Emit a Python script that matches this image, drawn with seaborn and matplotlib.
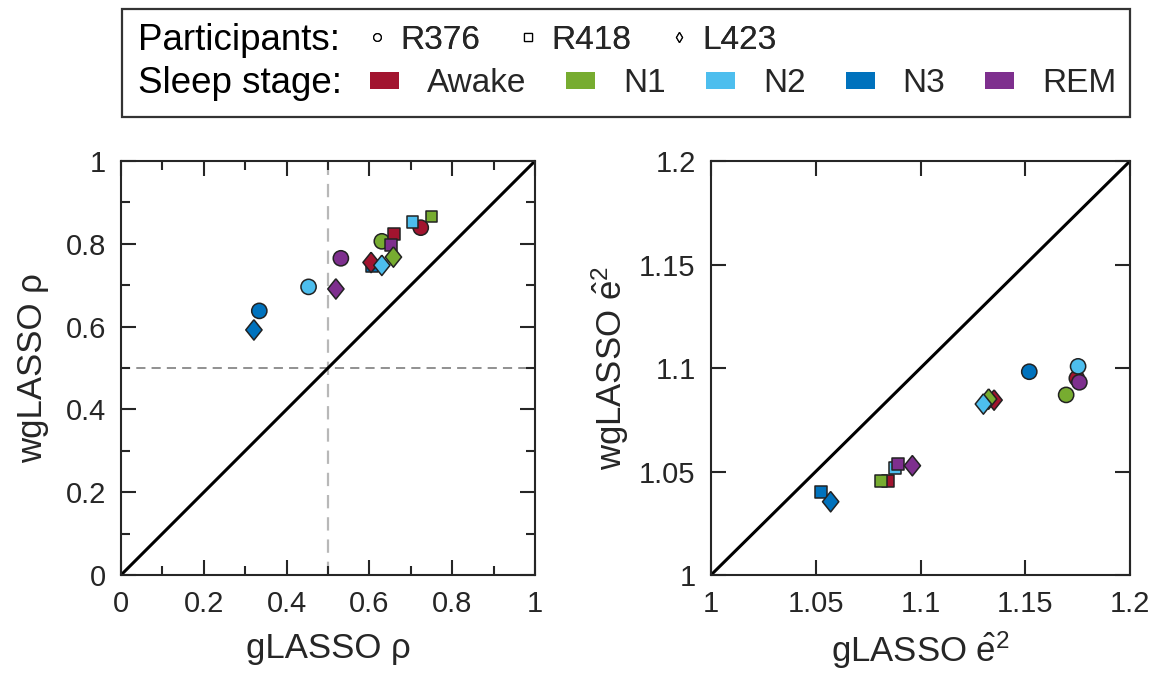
"""
gLASSO vs wgLASSO comparison: correlation and error per participant and sleep stage.
"""

import numpy as np
import pandas as pd
import matplotlib
matplotlib.use('Agg')
import matplotlib.pyplot as plt
import seaborn as sns
from matplotlib.lines import Line2D
from matplotlib.patches import Patch, Rectangle
from matplotlib.ticker import MultipleLocator, FuncFormatter

# ---- data ----
stages = ['Awake', 'N1', 'N2', 'N3', 'REM']
participants = ['R376', 'R418', 'L423']

stage_colors = ['#A2142F', '#77AC30', '#4DBEEE', '#0072BD', '#7E2F8E']
diamond = [(0, 1), (0.8, 0), (0, -1), (-0.8, 0), (0, 1)]
participant_markers = ['o', 's', diamond]
participant_sizes = [120, 72, 215]

# correlation rho, one value per stage (Awake, N1, N2, N3, REM)
rho_g_R376 = [0.724, 0.630, 0.453, 0.334, 0.531]
rho_w_R376 = [0.839, 0.806, 0.696, 0.638, 0.765]
rho_g_R418 = [0.659, 0.750, 0.704, 0.606, 0.652]
rho_w_R418 = [0.824, 0.866, 0.853, 0.747, 0.798]
rho_g_L423 = [0.604, 0.658, 0.630, 0.321, 0.519]
rho_w_L423 = [0.755, 0.768, 0.748, 0.592, 0.691]

# normalised error e^2
err_g_R376 = [1.1746, 1.1695, 1.1752, 1.1519, 1.1758]
err_w_R376 = [1.0950, 1.0870, 1.1008, 1.0982, 1.0931]
err_g_R418 = [1.0845, 1.0813, 1.0877, 1.0525, 1.0893]
err_w_R418 = [1.0453, 1.0453, 1.0518, 1.0402, 1.0536]
err_g_L423 = [1.1351, 1.1325, 1.1300, 1.0571, 1.0961]
err_w_L423 = [1.0845, 1.0850, 1.0826, 1.0354, 1.0528]

rows = []
for p, rg, rw, eg, ew in [
    ('R376', rho_g_R376, rho_w_R376, err_g_R376, err_w_R376),
    ('R418', rho_g_R418, rho_w_R418, err_g_R418, err_w_R418),
    ('L423', rho_g_L423, rho_w_L423, err_g_L423, err_w_L423),
]:
    for s, a, b, c, d in zip(stages, rg, rw, eg, ew):
        rows.append({'participant': p, 'stage': s,
                     'rho_g': a, 'rho_w': b, 'err_g': c, 'err_w': d})
df = pd.DataFrame(rows)

# ---- style ----
sns.set_theme(style='ticks')
plt.rcParams['font.family'] = ['Liberation Sans', 'DejaVu Sans']
plt.rcParams['mathtext.fontset'] = 'custom'
plt.rcParams['mathtext.rm'] = 'Liberation Sans'
plt.rcParams['mathtext.it'] = 'Liberation Sans:italic'
plt.rcParams['axes.linewidth'] = 1.5
text_col = '#262626'

palette = dict(zip(stages, stage_colors))
markers = dict(zip(participants, participant_markers))
sizes = dict(zip(participants, participant_sizes))

fig = plt.figure(figsize=(11.55, 6.82), dpi=100)
ax1 = fig.add_axes([0.1048, 0.1569, 0.3584, 0.6070])
ax2 = fig.add_axes([0.6156, 0.1569, 0.3628, 0.6070])


def style_axes(ax, lo, hi, major, minor=None):
    ax.set_xlim(lo, hi)
    ax.set_ylim(lo, hi)
    ax.xaxis.set_major_locator(MultipleLocator(major))
    ax.yaxis.set_major_locator(MultipleLocator(major))
    if minor:
        ax.xaxis.set_minor_locator(MultipleLocator(minor))
        ax.yaxis.set_minor_locator(MultipleLocator(minor))
    fmt = FuncFormatter(lambda v, _: f'{v:g}')
    ax.xaxis.set_major_formatter(fmt)
    ax.yaxis.set_major_formatter(fmt)
    ax.tick_params(which='both', direction='in', top=True, right=True,
                   colors=text_col, labelsize=21, width=1.5)
    ax.tick_params(which='major', length=11, pad=11)
    ax.tick_params(which='minor', length=6.5)
    for sp in ax.spines.values():
        sp.set_color(text_col)
        sp.set_visible(True)
    ax.plot([lo, hi], [lo, hi], color='black', lw=2.2, zorder=1)


def draw_points(ax, x, y):
    sns.scatterplot(data=df, x=x, y=y, hue='stage', style='participant',
                    size='participant', sizes=sizes, palette=palette,
                    markers=markers, edgecolor='#222222', linewidth=1.1,
                    legend=False, ax=ax, zorder=3)


# ---- left panel: rho ----
style_axes(ax1, 0, 1, 0.2, 0.1)
ax1.axhline(0.5, color='0.45', lw=1.1, ls=(0, (6, 4)), zorder=0)
ax1.axvline(0.5, color='0.72', lw=1.6, ls=(0, (6, 4)), zorder=0)
draw_points(ax1, 'rho_g', 'rho_w')
ax1.set_xlabel('gLASSO ρ', fontsize=25, color=text_col, labelpad=10)
ax1.set_ylabel('wgLASSO ρ', fontsize=25, color=text_col, labelpad=12)

# ---- right panel: error ----
style_axes(ax2, 1, 1.2, 0.05)
draw_points(ax2, 'err_g', 'err_w')
ax2.set_xlabel(r'gLASSO $\hat{\mathrm{e}}^2$', fontsize=25, color=text_col, labelpad=8)
ax2.set_ylabel(r'wgLASSO $\hat{\mathrm{e}}^2$', fontsize=25, color=text_col, labelpad=6)

# ---- legend box on top ----
row1_y, row2_y = 0.941, 0.877
fig.patches.append(Rectangle((0.1056, 0.8284), 0.8727, 0.1584, transform=fig.transFigure,
                             fill=False, edgecolor='#333333', lw=1.6))
fig.text(0.1195, row1_y, 'Participants:', fontsize=26.5, va='center', ha='left', color='black')
fig.text(0.1195, row2_y, 'Sleep stage:', fontsize=26.5, va='center', ha='left', color='black')

p_handles = [Line2D([], [], ls='none', marker=m, markersize=5.5,
                    markerfacecolor='white', markeredgecolor='black', markeredgewidth=0.9)
             for m in ['o', 's', 'd']]
leg1 = fig.legend(p_handles, participants, loc='center left', bbox_to_anchor=(0.3192, row1_y),
                  ncol=3, frameon=False, fontsize=24, handlelength=0.5, handletextpad=0.44,
                  columnspacing=1.2, borderpad=0, borderaxespad=0)
s_handles = [Patch(facecolor=c, edgecolor='none') for c in stage_colors]
leg2 = fig.legend(s_handles, stages, loc='center left', bbox_to_anchor=(0.3203, row2_y),
                  ncol=5, frameon=False, fontsize=24, handlelength=0.87, handleheight=0.4,
                  handletextpad=0.84, columnspacing=1.2, borderpad=0, borderaxespad=0)
fig.add_artist(leg1)

fig.savefig('out.png', dpi=100)
